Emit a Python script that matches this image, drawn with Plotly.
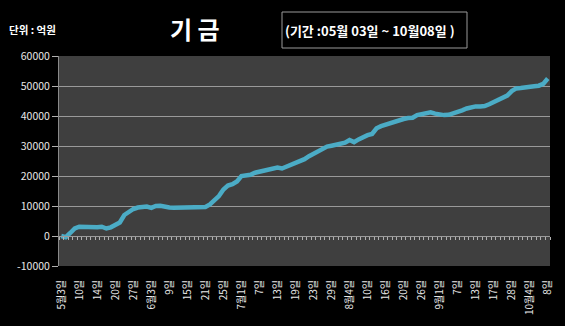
import plotly.graph_objects as go

# Trading days, 2010-05-03 .. 2010-10-08 (KRX calendar)
may = [3, 4, 6, 7, 10, 11, 12, 13, 14, 17, 18, 19, 20, 24, 25, 26, 27, 28, 31]
jun = [1, 3, 4, 7, 8, 9, 10, 11, 14, 15, 16, 17, 18, 21, 22, 23, 24, 25, 28, 29, 30]
jul = [1, 2, 5, 6, 7, 8, 9, 12, 13, 14, 15, 16, 19, 20, 21, 22, 23, 26, 27, 28, 29, 30]
aug = [2, 3, 4, 5, 6, 9, 10, 11, 12, 13, 16, 17, 18, 19, 20, 23, 24, 25, 26, 27, 30, 31]
sep = [1, 2, 3, 6, 7, 8, 9, 10, 13, 14, 15, 16, 17, 20, 24, 27, 28, 29, 30]
oct_ = [1, 4, 5, 6, 7, 8]

dates = ([f"5/{d}" for d in may] + [f"6/{d}" for d in jun] + [f"7/{d}" for d in jul]
         + [f"8/{d}" for d in aug] + [f"9/{d}" for d in sep] + [f"10/{d}" for d in oct_])

# Cumulative fund flow (억원)
fund = [
    0, -400, 1000, 2500, 3100, 3000, 2900, 2800, 2900, 3100,
    2500, 2900, 3500, 4500, 7000, 8200, 9000, 9500, 9700, 9800,
    9400, 10000, 10100, 9700, 9500, 9450, 9450, 9450, 9450, 9450,
    9450, 9500, 9700, 10500, 12000, 13300, 15500, 16800, 17300, 18200,
    20000, 20200, 20400, 21100, 21500, 21600, 22000, 22400, 22800, 22500,
    23100, 23700, 24400, 24900, 25600, 26600, 27400, 28300, 29300, 29800,
    30100, 30500, 30800, 31100, 32000, 31300, 32200, 33000, 33600, 34000,
    35900, 36600, 37100, 37600, 38100, 38700, 39000, 39300, 39400, 40300,
    40700, 41000, 41200, 40800, 40400, 40300, 40400, 40800, 41300, 41900,
    42500, 43000, 43200, 43200, 43300, 43900, 44600, 45100, 45800, 46800,
    48300, 49200, 49300, 49400, 49700, 49900, 50100, 50700, 52500,
]

# Axis labels, one every 4 trading days
tick_dates = dates[::4]
tick_text = ["5월3일", "10일", "14일", "20일", "27일", "6월3일", "9일", "15일", "21일",
             "25일", "7월1일", "7일", "13일", "19일", "23일", "29일", "8월4일", "10일",
             "16일", "20일", "26일", "9월1일", "7일", "13일", "17일", "28일", "10월4일", "8일"]

y_ticks = [-10000, 0, 10000, 20000, 30000, 40000, 50000, 60000]
y_text = [str(v) for v in y_ticks]

FONT = "Noto Sans CJK KR"
GRID = "#9a9a9a"
W, H = 565, 326
ML, MR, MT, MB = 59, 15, 56, 60


def px_x(px):
    return (px - ML) / (W - ML - MR)


def px_y(py):
    return (H - MB - py) / (H - MT - MB)


fig = go.Figure()
fig.add_trace(go.Scatter(
    x=dates, y=fund, mode="lines",
    line=dict(color="#4bacc6", width=4.5, shape="linear"),
    showlegend=False, hoverinfo="x+y",
))
# helper trace so the zero-line tick axis is drawn
fig.add_trace(go.Scatter(x=[0], y=[None], xaxis="x2", showlegend=False, hoverinfo="skip"))

ymin, ymax = y_ticks[0], y_ticks[-1]
fig.update_layout(
    width=W, height=H,
    margin=dict(l=ML, r=MR, t=MT, b=MB),
    paper_bgcolor="black",
    plot_bgcolor="#3f3f3f",
    font=dict(family=FONT, color="#e8e8e8"),
    xaxis=dict(
        type="category", categoryorder="array", categoryarray=dates,
        range=[-0.5, len(dates) - 0.5],
        tickmode="array", tickvals=tick_dates, ticktext=tick_text,
        tickangle=-90, ticks="", showgrid=False, zeroline=False,
        tickfont=dict(size=10, color="#e8e8e8", family=FONT),
        ticklabelstandoff=11, showline=False,
    ),
    xaxis2=dict(
        overlaying="x", anchor="free", position=(0 - ymin) / (ymax - ymin),
        range=[-0.5, len(dates) - 0.5], tick0=-0.5, dtick=1,
        ticks="outside", ticklen=3, tickwidth=1, tickcolor="#b0b0b0",
        showticklabels=False, showgrid=False, zeroline=False,
        showline=True, linecolor=GRID, linewidth=1,
    ),
    yaxis=dict(
        range=[ymin, ymax], tickmode="array", tickvals=y_ticks, ticktext=y_text,
        domain=[0, 1],
        showgrid=True, gridcolor=GRID, gridwidth=1, zeroline=False,
        ticks="outside", ticklen=6, tickcolor="#b0b0b0",
        showline=True, linecolor="#8a8a8a", linewidth=1,
        tickfont=dict(size=10.5, color="#e8e8e8", family=FONT),
    ),
)

# Title, unit and period box
fig.add_annotation(text="<b>기 금</b>", xref="paper", yref="paper",
                   x=px_x(195), y=px_y(28), xanchor="center", yanchor="middle",
                   showarrow=False, font=dict(size=24, color="white", family=FONT))
fig.add_annotation(text="<b>단위 : 억원</b>", xref="paper", yref="paper",
                   x=px_x(7), y=px_y(29), xanchor="left", yanchor="middle",
                   showarrow=False, font=dict(size=10.5, color="white", family=FONT))
fig.add_shape(type="rect", xref="paper", yref="paper",
              x0=px_x(282), x1=px_x(467), y0=px_y(12), y1=px_y(48),
              line=dict(color="#9a9a9a", width=1), fillcolor="rgba(0,0,0,0)")
fig.add_annotation(text="<b>(기간 :05월 03일 ~ 10월08일 )</b>", xref="paper", yref="paper",
                   x=px_x(370), y=px_y(30), xanchor="center", yanchor="middle",
                   showarrow=False, font=dict(size=13, color="white", family=FONT))

fig.write_html("out.html")
